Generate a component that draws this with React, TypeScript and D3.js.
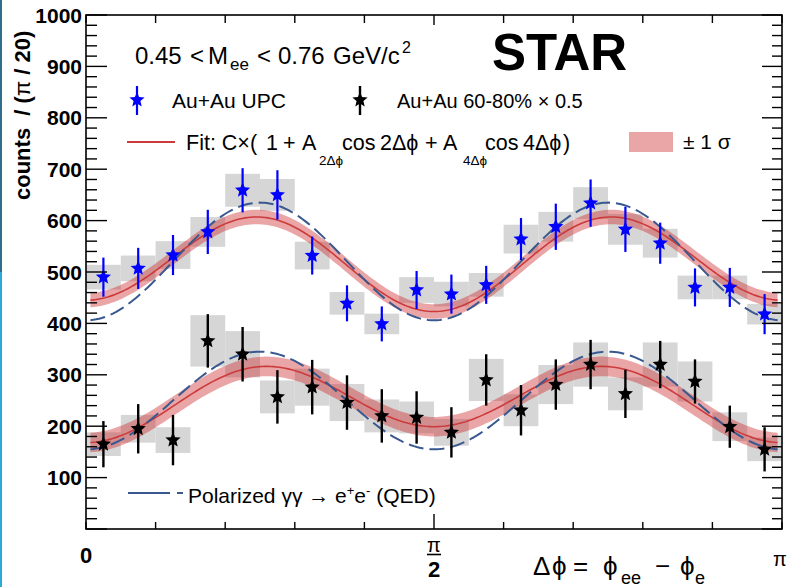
import React from "react";
import * as d3 from "d3";

const W = 788;
const H = 587;
const FONT = "'Liberation Sans', Arial, Helvetica, sans-serif";

// 20 bins of width pi/20 over [0, pi]
const nBins = 20;
const binIndex = d3.range(nBins);

// Au+Au UPC (blue stars)
const upcValues = [490, 507, 533, 578, 659, 650, 532, 439, 399, 465, 457, 475, 564, 588, 634, 583, 556, 470, 470, 418];
const upcStat = [38, 40, 39, 43, 43, 48, 37, 35, 34, 37, 38, 37, 41, 45, 46, 44, 40, 37, 38, 39];
const upcSys = [24, 25, 27, 29, 32, 31, 27, 22, 20, 25, 24, 23, 28, 29, 31, 30, 28, 23, 23, 20];

// Au+Au 60-80% x 0.5 (black stars)
const perValues = [165, 195, 173, 366, 340, 257, 276, 246, 220, 217, 188, 290, 231, 281, 320, 263, 320, 287, 199, 155];
const perStat = [45, 48, 49, 52, 53, 52, 53, 53, 52, 51, 49, 50, 49, 49, 48, 47, 46, 43, 41, 43];
const perSys = [23, 27, 25, 50, 45, 32, 36, 36, 32, 31, 26, 41, 31, 38, 43, 32, 43, 39, 28, 23];

// Fit parameters [C, A2, A4] and 1-sigma band half width
const fitUPC = [520.5, 0.021, -0.166];
const fitUPCSigma = 14;
const fitPer = [249.75, -0.062, -0.265];
const fitPerSigma = 19;
// QED predictions [C, A2, A4]
const qedUPC = [520.5, 0.0, -0.22];
const qedPer = [250, 0.0, -0.38];

const yMajorTickLabels = ["100", "200", "300", "400", "500", "600", "700", "800", "900", "1000"];

const x = d3.scaleLinear().domain([0, Math.PI]).range([86, 782]);
const y = d3.scaleLinear().domain([0, 1000]).range([529, 15]);
const binW = Math.PI / nBins;
const center = (i: number) => (i + 0.5) * binW;

const model = (p: number[], phi: number) => p[0] * (1 + p[1] * Math.cos(2 * phi) + p[2] * Math.cos(4 * phi));
const phiSamples = d3.range(0, 241).map((i) => 0.02 + ((Math.PI - 0.04) * i) / 240);

function curvePath(p: number[]) {
  return (
    d3
      .line<number>()
      .x((d) => x(d))
      .y((d) => y(model(p, d)))(phiSamples) || ""
  );
}
function bandPath(p: number[], s: number) {
  return (
    d3
      .area<number>()
      .x((d) => x(d))
      .y0((d) => y(model(p, d) - s))
      .y1((d) => y(model(p, d) + s))(phiSamples) || ""
  );
}

// ROOT-like full star marker (fatter than d3's default)
const fatStar = {
  draw(context: any, size: number) {
    const R = Math.sqrt(size);
    const r = R * 0.45;
    for (let k = 0; k < 10; k++) {
      const rad = k % 2 === 0 ? R : r;
      const a = (k * Math.PI) / 5;
      const px = rad * Math.sin(a);
      const py = -rad * Math.cos(a);
      if (k === 0) context.moveTo(px, py);
      else context.lineTo(px, py);
    }
    context.closePath();
  },
};
const starPath = d3.symbol().type(fatStar as any).size(64)() || "";

function Series({ values, stat, color, barW }: { values: number[]; stat: number[]; color: string; barW: number }) {
  return (
    <g>
      {binIndex.map((i) => (
        <g key={i}>
          <line x1={x(center(i))} x2={x(center(i))} y1={y(values[i] + stat[i])} y2={y(values[i] - stat[i])} stroke={color} strokeWidth={barW} />
          <path d={starPath} transform={`translate(${x(center(i))},${y(values[i])})`} fill={color} />
        </g>
      ))}
    </g>
  );
}

function SysBoxes({ values, sys }: { values: number[]; sys: number[] }) {
  return (
    <g>
      {binIndex.map((i) => (
        <rect
          key={i}
          x={x(i * binW)}
          width={x(binW) - x(0)}
          y={y(values[i] + sys[i])}
          height={y(values[i] - sys[i]) - y(values[i] + sys[i])}
          fill="#d6d6d6"
        />
      ))}
    </g>
  );
}

export default function App() {
  const xTicks = d3.range(0, 11).map((i) => (i * Math.PI) / 10);
  const yMajor = y.ticks(10);
  const yMinor = y.ticks(50);
  const red = "#cc3b3b";
  const bandFill = "rgb(205,40,45)";
  const qedColor = "#38588f";
  const PHI = "\u03D5";
  return (
    <div style={{ position: "absolute", left: 0, top: 0 }}>
      <svg width={W} height={H} style={{ display: "block", background: "#fff" }} fontFamily={FONT}>
        <rect x={0} y={0} width={W} height={H} fill="#fff" />
        <rect x={0} y={0} width={2} height={272} fill="#2f6f8c" />
        <rect x={0} y={272} width={2} height={315} fill="#2eaad8" />

        {/* systematic boxes */}
        <SysBoxes values={upcValues} sys={upcSys} />
        <SysBoxes values={perValues} sys={perSys} />

        {/* fit bands */}
        <path d={bandPath(fitUPC, fitUPCSigma)} fill={bandFill} opacity={0.42} />
        <path d={bandPath(fitPer, fitPerSigma)} fill={bandFill} opacity={0.42} />
        <path d={curvePath(fitUPC)} fill="none" stroke={red} strokeWidth={1.6} />
        <path d={curvePath(fitPer)} fill="none" stroke={red} strokeWidth={1.6} />

        {/* QED */}
        <path d={curvePath(qedUPC)} fill="none" stroke={qedColor} strokeWidth={2} strokeDasharray="15 6" />
        <path d={curvePath(qedPer)} fill="none" stroke={qedColor} strokeWidth={2} strokeDasharray="15 6" />

        {/* data */}
        <Series values={upcValues} stat={upcStat} color="#0000ff" barW={2.2} />
        <Series values={perValues} stat={perStat} color="#000" barW={2.4} />

        {/* frame */}
        <rect x={86} y={15} width={696} height={514} fill="none" stroke="#000" strokeWidth={1.6} />

        {/* y ticks */}
        {yMinor.map((v) => {
          const major = v % 100 === 0;
          const len = major ? 21 : 11;
          return (
            <g key={v}>
              <line x1={86} x2={86 + len} y1={y(v)} y2={y(v)} stroke="#000" strokeWidth={1.4} />
              <line x1={782} x2={782 - (major ? 20 : 10)} y1={y(v)} y2={y(v)} stroke="#000" strokeWidth={1.4} />
            </g>
          );
        })}
        {yMajor
          .filter((v) => v > 0)
          .map((v, i) => (
            <text key={v} x={82} y={y(v)} dy="0.36em" textAnchor="end" fontSize={21} fontWeight="bold">
              {yMajorTickLabels[i]}
            </text>
          ))}

        {/* x ticks */}
        {xTicks.map((t, i) => (
          <g key={i}>
            <line x1={x(t)} x2={x(t)} y1={529} y2={i === 5 ? 514 : 522} stroke="#000" strokeWidth={1.4} />
            <line x1={x(t)} x2={x(t)} y1={15} y2={i === 5 ? 25 : 23} stroke="#000" strokeWidth={1.4} />
          </g>
        ))}
        <text x={x(0)} y={563} textAnchor="middle" fontSize={22} fontWeight="bold">0</text>
        <text x={x(Math.PI / 2)} y={552} textAnchor="middle" fontSize={20}>π</text>
        <line x1={x(Math.PI / 2) - 7} x2={x(Math.PI / 2) + 7} y1={554.5} y2={554.5} stroke="#000" strokeWidth={1.6} />
        <text x={x(Math.PI / 2)} y={577} textAnchor="middle" fontSize={22} fontWeight="bold">2</text>
        <text x={x(Math.PI) - 2} y={566} textAnchor="middle" fontSize={20}>π</text>

        {/* x axis title */}
        <g fontSize={26}>
          <text x={533} y={575}>Δ</text>
          <text x={552} y={575}>{PHI}</text>
          <text x={573} y={575}>=</text>
          <text x={603} y={575}>{PHI}</text>
          <text x={621} y={584} fontSize={18}>ee</text>
          <text x={655} y={575}>−</text>
          <text x={680} y={575}>{PHI}</text>
          <text x={695} y={584} fontSize={18}>e</text>
        </g>
        {/* y axis title */}
        <text transform="translate(30,200) rotate(-90)" fontSize={22} fontWeight="bold">
          {"counts\u00A0\u00A0/ ("}
          <tspan fontWeight="normal">π</tspan>
          {" / 20)"}
        </text>

        {/* header text */}
        <g fontSize={24}>
          <text x={135} y={64}>0.45</text>
          <text x={190} y={64}>&lt;</text>
          <text x={208} y={64}>M</text>
          <text x={230} y={70} fontSize={17}>ee</text>
          <text x={257} y={64}>&lt;</text>
          <text x={278} y={64}>0.76</text>
          <text x={333} y={64}>GeV/c</text>
          <text x={402} y={53} fontSize={16}>2</text>
        </g>
        <text x={492} y={70} fontSize={51} fontWeight="bold">STAR</text>

        {/* legend */}
        <line x1={137} x2={137} y1={86} y2={115} stroke="#0000ff" strokeWidth={2.2} />
        <path d={starPath} transform="translate(137,100)" fill="#0000ff" />
        <text x={172} y={108} fontSize={21}>Au+Au UPC</text>
        <line x1={360} x2={360} y1={86} y2={115} stroke="#000" strokeWidth={2.4} />
        <path d={starPath} transform="translate(360,100)" fill="#000" />
        <text x={397} y={108} fontSize={20}>Au+Au 60-80% × 0.5</text>

        <line x1={127} x2={175} y1={142} y2={142} stroke={red} strokeWidth={1.8} />
        <g fontSize={21.5}>
          <text x={186} y={150}>Fit: C×(</text>
          <text x={266} y={150}>1</text>
          <text x={283} y={150}>+</text>
          <text x={302} y={150}>A</text>
          <text x={319} y={165} fontSize={13.5}>2Δ{PHI}</text>
          <text x={342} y={150}>cos</text>
          <text x={380} y={150}>2Δ{PHI}</text>
          <text x={425} y={150}>+</text>
          <text x={443} y={150}>A</text>
          <text x={463} y={165} fontSize={13.5}>4Δ{PHI}</text>
          <text x={485} y={150}>cos</text>
          <text x={523} y={150}>4Δ{PHI}</text>
          <text x={563} y={150}>)</text>
        </g>
        <rect x={629} y={132} width={44} height={20} fill={bandFill} opacity={0.42} />
        <text x={683} y={149} fontSize={21}>± 1 σ</text>

        <line x1={128} x2={170} y1={493} y2={493} stroke={qedColor} strokeWidth={2} />
        <line x1={177} x2={183} y1={493} y2={493} stroke={qedColor} strokeWidth={2} />
        <text x={188} y={503} fontSize={21}>
          Polarized γγ → e<tspan dy={-8} fontSize={13}>+</tspan>
          <tspan dy={8}>e</tspan>
          <tspan dy={-8} fontSize={13}>-</tspan>
          <tspan dy={8}> (QED)</tspan>
        </text>
      </svg>
    </div>
  );
}
